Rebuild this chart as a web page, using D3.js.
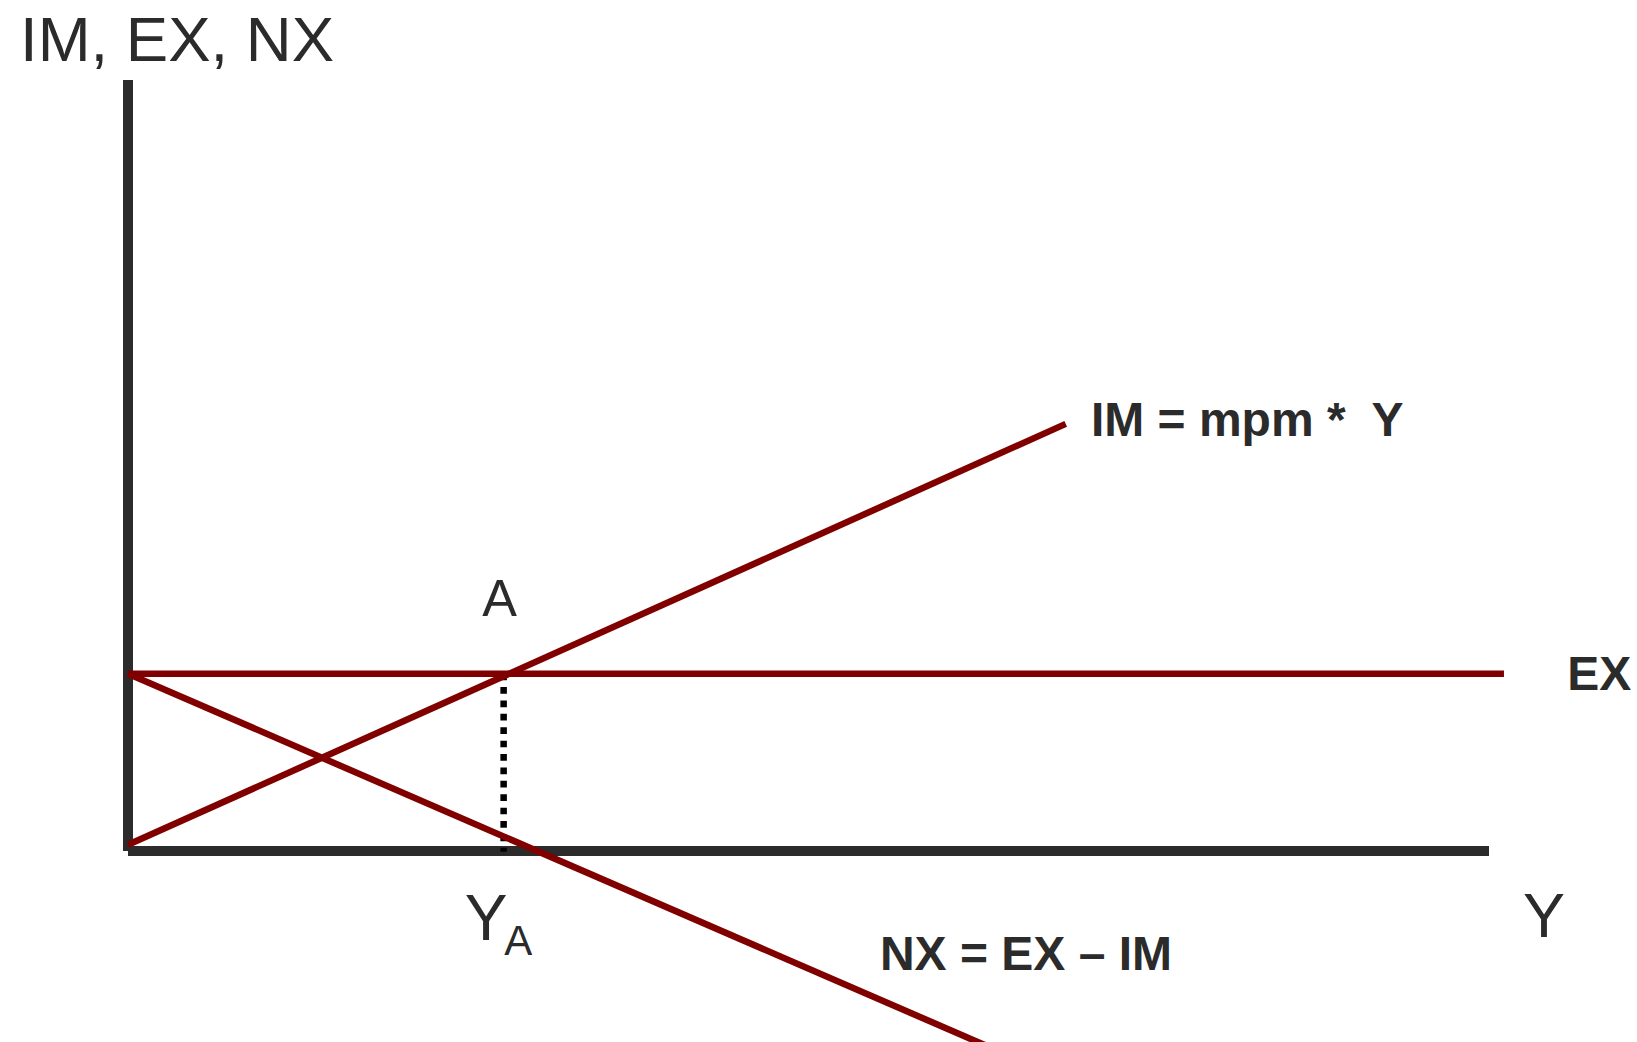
<!DOCTYPE html>
<html>
<head>
<meta charset="utf-8">
<script src="https://cdn.jsdelivr.net/npm/d3@7"></script>
<style>
  body { margin: 0; background: #fff; }
  text { font-family: "Liberation Sans", Arial, sans-serif; fill: #2b2b2b; }
</style>
</head>
<body>
<div id="chart"></div>
<script>
// values, in chart units (both axes 0..100)
const exLine = [[0, 23], [101.1, 23]];
const imLine = [[0, 0.8], [68.9, 55.4]];
const nxLine = [[0, 23], [66, -27.5]];
const pointA = { x: 27.6, y: 23 };

const curveLabels = [
  { text: "IM = mpm *\u00a0 Y", x: 70.75, y: 53.8 },
  { text: "EX", x: 105.75, y: 20.9 },
  { text: "NX = EX \u2013 IM", x: 55.25, y: -15.4 }
];

const width = 1637,
  height = 1042;

// axis frame in pixels
const plotLeft = 128,
  plotRight = 1489,
  plotBottom = 851,
  plotTop = 80;

const x = d3.scaleLinear().domain([0, 100]).range([plotLeft, plotRight]);
const y = d3.scaleLinear().domain([0, 100]).range([plotBottom, plotTop]);

const svg = d3.select("#chart")
  .append("svg")
  .attr("width", width)
  .attr("height", height);

svg.append("rect")
  .attr("width", width)
  .attr("height", height)
  .attr("fill", "#fff");

const line = d3.line()
  .x(d => x(d[0]))
  .y(d => y(d[1]));

// axes (drawn as plain thick lines, no ticks)
svg.append("line")
  .attr("x1", x(0)).attr("x2", x(0))
  .attr("y1", plotTop).attr("y2", plotBottom)
  .attr("stroke", "#2b2b2b")
  .attr("stroke-width", 10);

svg.append("line")
  .attr("x1", x(0)).attr("x2", plotRight)
  .attr("y1", y(0)).attr("y2", y(0))
  .attr("stroke", "#2b2b2b")
  .attr("stroke-width", 10);

// dotted drop line from A to the Y axis
svg.append("line")
  .attr("x1", x(pointA.x)).attr("x2", x(pointA.x))
  .attr("y1", y(pointA.y)).attr("y2", y(-0.1))
  .attr("stroke", "#000")
  .attr("stroke-width", 6.5)
  .attr("stroke-dasharray", "6.7 6.7");

// curves
svg.selectAll("path.curve")
  .data([exLine, imLine, nxLine])
  .join("path")
  .attr("class", "curve")
  .attr("d", line)
  .attr("fill", "none")
  .attr("stroke", "#800000")
  .attr("stroke-width", 6.5);

// curve labels
svg.selectAll("text.clabel")
  .data(curveLabels)
  .join("text")
  .attr("class", "clabel")
  .attr("x", d => x(d.x))
  .attr("y", d => y(d.y))
  .attr("font-size", 48)
  .attr("font-weight", "bold")
  .text(d => d.text);

// axis titles
svg.append("text")
  .attr("x", 20)
  .attr("y", 61)
  .attr("font-size", 63.5)
  .text("IM, EX, NX");

svg.append("text")
  .attr("x", 1523)
  .attr("y", 937)
  .attr("font-size", 63)
  .text("Y");

// point A and Y_A
svg.append("text")
  .attr("x", x(pointA.x) - 4)
  .attr("y", y(pointA.y) - 58)
  .attr("text-anchor", "middle")
  .attr("font-size", 52)
  .text("A");

const ya = svg.append("text")
  .attr("x", x(pointA.x) - 39)
  .attr("y", 940)
  .attr("font-size", 64);
ya.append("tspan").text("Y");
ya.append("tspan")
  .attr("font-size", 42)
  .attr("dx", -3)
  .attr("dy", 15)
  .text("A");
</script>
</body>
</html>
